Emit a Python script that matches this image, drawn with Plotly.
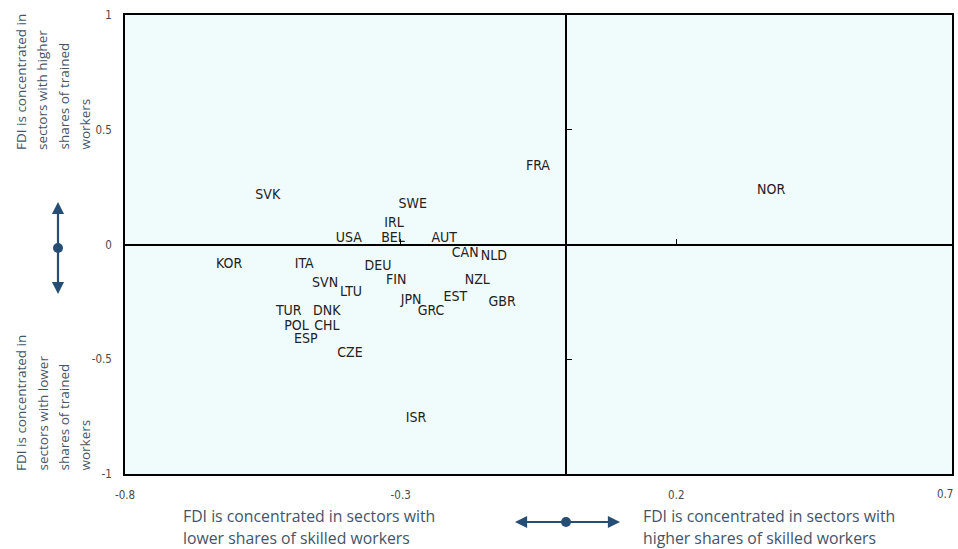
import plotly.graph_objects as go

# Country codes with their position on the two skill-intensity indices
countries = ["SVK", "SWE", "IRL", "USA", "BEL", "AUT", "FRA", "NOR", "CAN", "NLD",
             "KOR", "ITA", "DEU", "FIN", "SVN", "LTU", "NZL", "JPN", "GRC", "EST",
             "GBR", "TUR", "DNK", "POL", "CHL", "ESP", "CZE", "ISR"]
skilled = [-0.541, -0.278, -0.312, -0.394, -0.314, -0.221, -0.051, 0.372, -0.183, -0.131,
           -0.611, -0.475, -0.341, -0.308, -0.437, -0.390, -0.161, -0.281, -0.245, -0.201,
           -0.116, -0.503, -0.434, -0.489, -0.434, -0.472, -0.392, -0.272]
trained = [0.213, 0.176, 0.093, 0.024, 0.028, 0.028, 0.342, 0.237, -0.041, -0.054,
           -0.089, -0.089, -0.094, -0.159, -0.168, -0.211, -0.159, -0.242, -0.290, -0.229,
           -0.251, -0.294, -0.294, -0.359, -0.359, -0.412, -0.477, -0.756]

x_ticks = [-0.8, -0.3, 0.2, 0.7]
y_ticks = [-1, -0.5, 0, 0.5, 1]

LABEL_FONT = "DejaVu Sans Condensed, Liberation Sans Narrow, Liberation Sans, sans-serif"
TICK_FONT = "DejaVu Sans Condensed, Liberation Sans Narrow, Liberation Sans, sans-serif"
NOTE_FONT = "Open Sans, Noto Sans, sans-serif"
NOTE_COLOR = "#44546A"
ARROW_COLOR = "#264D73"

fig = go.Figure()

fig.add_trace(go.Scatter(
    x=skilled, y=trained, text=countries, mode="text",
    textposition="middle center",
    textfont=dict(family=LABEL_FONT, size=14, color="#222222"),
    hoverinfo="text", showlegend=False,
))

# helper trace so the crossing axes at zero get drawn
fig.add_trace(go.Scatter(x=[0], y=[0], xaxis="x2", yaxis="y2", mode="markers",
                         marker=dict(opacity=0), hoverinfo="skip", showlegend=False))

tickfont = dict(family=TICK_FONT, size=11.5, color="#4a4a4a")

# the last x tick label sits flush with the right edge, so it is placed separately
x_ticktext = [str(v) for v in x_ticks[:-1]] + [""]

fig.update_layout(
    width=958, height=549,
    margin=dict(l=125, r=6, t=15, b=75),
    paper_bgcolor="white",
    plot_bgcolor="#F0FBFC",
    xaxis=dict(range=[-0.8, 0.7], tickvals=x_ticks, ticktext=x_ticktext,
               showgrid=False, zeroline=False, showline=True, linecolor="black",
               linewidth=1.5, mirror=True, ticks="", tickfont=tickfont,
               ticklabelstandoff=9, ticklabeloverflow="allow", automargin=False),
    yaxis=dict(range=[-1, 1], tickvals=y_ticks, ticktext=[str(v) for v in y_ticks],
               showgrid=False, zeroline=False, showline=True, linecolor="black",
               linewidth=1.5, mirror=True, ticks="", tickfont=tickfont,
               ticklabelstandoff=9, ticklabeloverflow="allow", automargin=False),
    xaxis2=dict(range=[-0.8, 0.7], overlaying="x", anchor="free", position=0.5,
                side="bottom", tickvals=x_ticks, showticklabels=False, ticks="inside",
                ticklen=5, tickwidth=1.2, tickcolor="black", showline=True,
                linecolor="black", linewidth=1.5, showgrid=False, zeroline=False,
                automargin=False),
    yaxis2=dict(range=[-1, 1], overlaying="y", anchor="free", position=0.8 / 1.5,
                side="left", tickvals=y_ticks, showticklabels=False, ticks="inside",
                ticklen=5, tickwidth=1.2, tickcolor="black", showline=True,
                linecolor="black", linewidth=1.5, showgrid=False, zeroline=False,
                automargin=False),
)

# pixel -> paper conversion for the plot frame (125..952 x 15..474)
def px(xp):
    return (xp - 125) / 827.0


def py(yp):
    return (474 - yp) / 459.0


fig.add_annotation(text=str(x_ticks[-1]), x=x_ticks[-1], xref="x", y=py(494), yref="paper",
                   xanchor="right", yanchor="middle", xshift=3, showarrow=False,
                   font=tickfont)

bottom_font = dict(family=NOTE_FONT, size=15.8, color=NOTE_COLOR)
side_font = dict(family=NOTE_FONT, size=13.5, color=NOTE_COLOR)

# Horizontal explanation under the x axis
bottom_left = ["FDI is concentrated in sectors with", "lower shares of skilled workers"]
bottom_right = ["FDI is concentrated in sectors with", "higher shares of skilled workers"]
for i, line in enumerate(bottom_left):
    fig.add_annotation(text=line, xref="paper", yref="paper", x=px(181), y=py(516 + 22 * i),
                       xanchor="left", yanchor="middle", showarrow=False, font=bottom_font)
for i, line in enumerate(bottom_right):
    fig.add_annotation(text=line, xref="paper", yref="paper", x=px(641), y=py(516 + 22 * i),
                       xanchor="left", yanchor="middle", showarrow=False, font=bottom_font)

# Vertical explanation left of the y axis
left_top = ["FDI is concentrated in", "sectors with higher", "shares of trained", "workers"]
left_bottom = ["FDI is concentrated in", "sectors with lower", "shares of trained", "workers"]
line_x = [21, 42, 63, 84]
for i, line in enumerate(left_top):
    fig.add_annotation(text=line, xref="paper", yref="paper", x=px(line_x[i]), y=py(152),
                       xanchor="center", yanchor="bottom", textangle=-90,
                       showarrow=False, font=side_font)
for i, line in enumerate(left_bottom):
    fig.add_annotation(text=line, xref="paper", yref="paper", x=px(line_x[i]), y=py(473),
                       xanchor="center", yanchor="bottom", textangle=-90,
                       showarrow=False, font=side_font)

# Double-headed arrows with a dot in the middle
def arrow(tip_x, tip_y, dx, dy):
    fig.add_annotation(x=px(tip_x), y=py(tip_y), xref="paper", yref="paper", text="",
                       showarrow=True, ax=dx, ay=dy, arrowhead=2, arrowsize=1.1,
                       arrowwidth=2.2, arrowcolor=ARROW_COLOR)


def dot(cx, cy):
    fig.add_shape(type="circle", xref="paper", yref="paper", xsizemode="pixel",
                  ysizemode="pixel", xanchor=px(cx), yanchor=py(cy),
                  x0=-5, x1=5, y0=-5, y1=5, fillcolor=ARROW_COLOR,
                  line=dict(color=ARROW_COLOR, width=0))

arrow(58, 202, 0, 46)
arrow(58, 294, 0, -46)
dot(58, 248)

arrow(515, 522, 51, 0)
arrow(620, 522, -54, 0)
dot(566, 522)

fig.write_html("out.html")
